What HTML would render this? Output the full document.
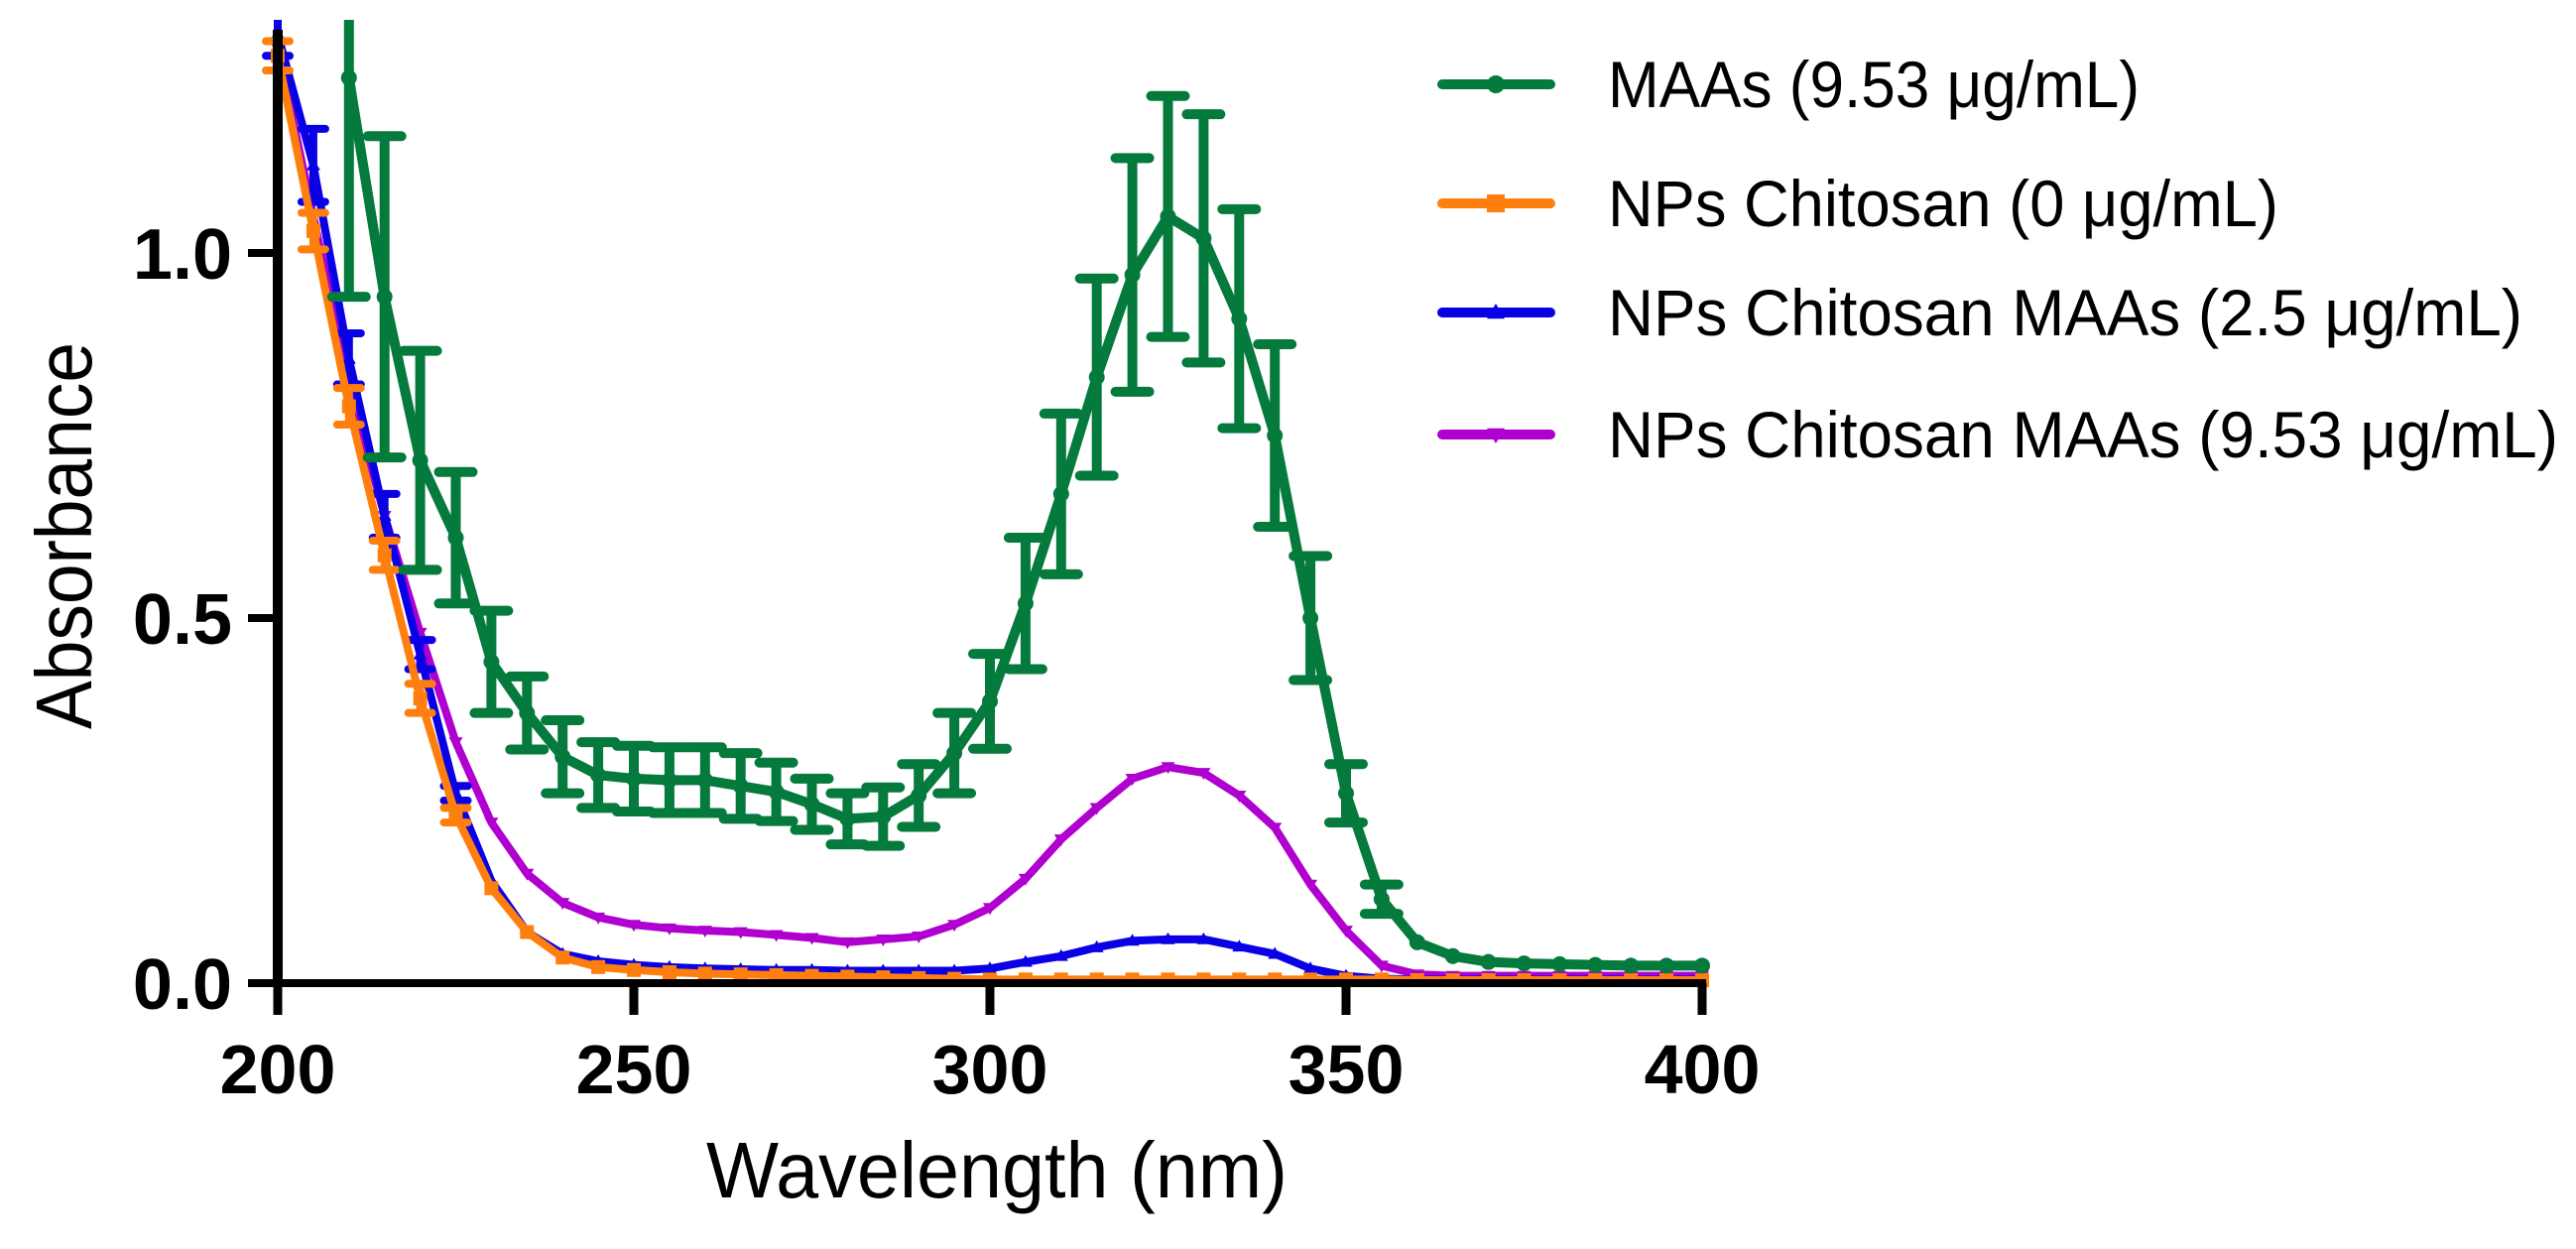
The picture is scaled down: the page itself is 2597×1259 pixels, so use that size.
<!DOCTYPE html>
<html><head><meta charset="utf-8"><style>
html,body{margin:0;padding:0;background:#fff;}
svg{display:block;}
text{font-family:"Liberation Sans",Arial,sans-serif;}
</style></head><body>
<svg id="chart" width="2597" height="1259" viewBox="0 0 2597 1259" xmlns="http://www.w3.org/2000/svg">
<g id="plot"></g>
<g id="axes"></g>
<g id="legend"></g>
</svg>
<script>
const wavelengths = [200,205,210,215,220,225,230,235,240,245,250,255,260,265,270,275,280,285,290,295,300,305,310,315,320,325,330,335,340,345,350,355,360,365,370,375,380,385,390,395,400];
const maasValues = [null,null,1.24,0.94,0.716,0.61,0.44,0.37,0.31,0.285,0.28,0.278,0.278,0.27,0.262,0.245,0.225,0.228,0.257,0.315,0.386,0.52,0.67,0.83,0.97,1.05,1.02,0.91,0.75,0.50,0.26,0.115,0.056,0.037,0.029,0.027,0.026,0.025,0.024,0.024,0.024];
const maasErr = [0,0,0.3,0.22,0.15,0.09,0.07,0.05,0.05,0.045,0.045,0.045,0.045,0.045,0.04,0.035,0.035,0.04,0.043,0.055,0.065,0.09,0.11,0.135,0.16,0.165,0.17,0.15,0.125,0.085,0.04,0.02,0,0,0,0,0,0,0,0,0];
const chitosanValues = [1.27,1.03,0.79,0.586,0.39,0.23,0.13,0.07,0.035,0.022,0.018,0.015,0.013,0.012,0.011,0.01,0.009,0.008,0.007,0.006,0.005,0.005,0.005,0.005,0.005,0.005,0.005,0.005,0.005,0.005,0.005,0.005,0.004,0.004,0.004,0.004,0.004,0.004,0.004,0.004,0.004];
const chitosanErr = [0.02,0.025,0.025,0.02,0.02,0.01,0,0,0,0,0,0,0,0,0,0,0,0,0,0,0,0,0,0,0,0,0,0,0,0,0,0,0,0,0,0,0,0,0,0,0];
const maas25Values = [1.30,1.12,0.855,0.64,0.45,0.26,0.14,0.07,0.04,0.03,0.025,0.022,0.02,0.019,0.018,0.018,0.017,0.017,0.017,0.017,0.02,0.029,0.037,0.049,0.058,0.06,0.06,0.05,0.04,0.02,0.01,0.006,0.005,0.005,0.005,0.005,0.005,0.005,0.005,0.005,0.005];
const maas25Err = [0.03,0.05,0.035,0.03,0.02,0.01,0,0,0,0,0,0,0,0,0,0,0,0,0,0,0,0,0,0,0,0,0,0,0,0,0,0,0,0,0,0,0,0,0,0,0];
const maas953Values = [1.28,1.05,0.82,0.64,0.48,0.33,0.22,0.15,0.11,0.09,0.08,0.075,0.072,0.07,0.066,0.062,0.056,0.06,0.064,0.08,0.103,0.143,0.197,0.24,0.28,0.296,0.288,0.257,0.213,0.135,0.072,0.024,0.012,0.01,0.01,0.01,0.01,0.01,0.01,0.01,0.01];
const xTicks = [200,250,300,350,400];
const yTicks = [0.0,0.5,1.0];
const yTickLabels = ["0.0","0.5","1.0"];
const legendLabels = ["MAAs (9.53 \u03bcg/mL)","NPs Chitosan (0 \u03bcg/mL)","NPs Chitosan MAAs (2.5 \u03bcg/mL)","NPs Chitosan MAAs (9.53 \u03bcg/mL)"];

const NS = "http://www.w3.org/2000/svg";
const X0 = 280, X1 = 1716, Y0 = 991, YPER = 736, YMAX = 1.3;
function xs(w){ return X0 + (w-200)*(X1-X0)/200; }
function ys(v){ return Y0 - Math.min(v, YMAX+0.05)*YPER; }
function mk(tag, attrs, parent){ const e=document.createElementNS(NS,tag); for(const k in attrs) e.setAttribute(k,attrs[k]); parent.appendChild(e); return e; }

const plot = document.getElementById('plot');
const axes = document.getElementById('axes');
const legend = document.getElementById('legend');
const clip = mk('clipPath',{id:'clipp'},mk('defs',{},document.getElementById('chart')));
mk('rect',{x:200,y:20,width:1700,height:1010},clip);
plot.setAttribute('clip-path','url(#clipp)');

const series = [
 {vals:maas953Values, err:null, color:'#b000d0', lw:8, marker:'tridown', name:'series-nps-chitosan-maas-9-53'},
 {vals:maas25Values, err:maas25Err, color:'#0a00e6', lw:8, marker:'triup', name:'series-nps-chitosan-maas-2-5'},
 {vals:chitosanValues, err:chitosanErr, color:'#ff7f0e', lw:8, marker:'square', name:'series-nps-chitosan-0'},
 {vals:maasValues, err:maasErr, color:'#047a3c', lw:10, marker:'circle', name:'series-maas-9-53'}
];
function drawMarker(type, cx, cy, color, g, s){
  let el;
  if(type==='circle') el = mk('circle',{cx:cx,cy:cy,r:s},g);
  else if(type==='square') el = mk('rect',{x:cx-s,y:cy-s,width:2*s,height:2*s},g);
  else if(type==='triup') el = mk('polygon',{points:`${cx-s},${cy+s*0.7} ${cx+s},${cy+s*0.7} ${cx},${cy-s}`},g);
  else el = mk('polygon',{points:`${cx-s},${cy-s*0.7} ${cx+s},${cy-s*0.7} ${cx},${cy+s}`},g);
  el.setAttribute('fill',color);
  return el;
}
series.forEach(s=>{
  const g = mk('g',{},plot);
  
  
  let pts=[];
  wavelengths.forEach((w,i)=>{ if(s.vals[i]!==null) pts.push(xs(w)+','+ys(s.vals[i])); });
  const line = mk('polyline',{points:pts.join(' '),fill:'none',stroke:s.color,'stroke-width':s.lw,'stroke-linejoin':'round','stroke-linecap':'round'},g);
  
  
  wavelengths.forEach((w,i)=>{
    const v=s.vals[i]; if(v===null) return;
    const cx=xs(w), cy=ys(v);
    if(s.err && s.err[i]>0){
      const e=s.err[i];
      const cw = s.marker==='circle'?17:12;
      const eb = mk('path',{d:`M${cx},${ys(v+e)}V${ys(v-e)}M${cx-cw},${ys(v+e)}H${cx+cw}M${cx-cw},${ys(v-e)}H${cx+cw}`,stroke:s.color,'stroke-width':s.marker==='circle'?10:8,'stroke-linecap':'round',fill:'none'},g);
      
      
    }
    const m = drawMarker(s.marker,cx,cy,s.color,g,s.marker==='circle'?8:7);
    
    
  });
});

// axes
mk('line',{x1:X0,y1:Y0+4,x2:X0,y2:30,stroke:'#000','stroke-width':10},axes);
mk('line',{x1:X0-5,y1:Y0,x2:X1+4,y2:Y0,stroke:'#000','stroke-width':8},axes);
xTicks.forEach(t=>{
  const tk = mk('line',{x1:xs(t),y1:Y0,x2:xs(t),y2:1023,stroke:'#000','stroke-width':9},axes);
  
  
  const lb = mk('text',{x:xs(t),y:1102,'text-anchor':'middle','font-size':70,'font-weight':'bold',fill:'#000'},axes);
  lb.textContent = String(t);
  
  
});
yTicks.forEach((t,i)=>{
  const tk = mk('line',{x1:250,y1:ys(t),x2:X0,y2:ys(t),stroke:'#000','stroke-width':8},axes);
  
  
  const lb = mk('text',{x:234,y:ys(t)+26,'text-anchor':'end','font-size':72,'font-weight':'bold',fill:'#000'},axes);
  lb.textContent = yTickLabels[i];
  
  
});
const xt = mk('text',{x:1005,y:1207,'text-anchor':'middle','font-size':80,fill:'#000',textLength:586,lengthAdjust:'spacingAndGlyphs'},axes);
xt.textContent='Wavelength (nm)';


const yt = mk('text',{x:0,y:0,'text-anchor':'middle','font-size':80,fill:'#000',textLength:390,lengthAdjust:'spacingAndGlyphs',transform:'translate(92,540) rotate(-90)'},axes);
yt.textContent='Absorbance';



// legend
const legRows=[85,205,315,438];
const legWidths=[536,676,922,958];
const legColors=['#047a3c','#ff7f0e','#0a00e6','#b000d0'];
const legMarkers=['circle','square','triup','tridown'];
legendLabels.forEach((lab,i)=>{
  const g = mk('g',{},legend);
  
  
  const y=legRows[i];
  mk('line',{x1:1454,y1:y,x2:1563,y2:y,stroke:legColors[i],'stroke-width':10,'stroke-linecap':'round'},g);
  drawMarker(legMarkers[i],1508,y,legColors[i],g,9);
  const t = mk('text',{x:1621,y:y+23,'font-size':66,fill:'#000',textLength:legWidths[i],lengthAdjust:'spacingAndGlyphs'},g);
  t.textContent=lab;
});
</script>
</body></html>
